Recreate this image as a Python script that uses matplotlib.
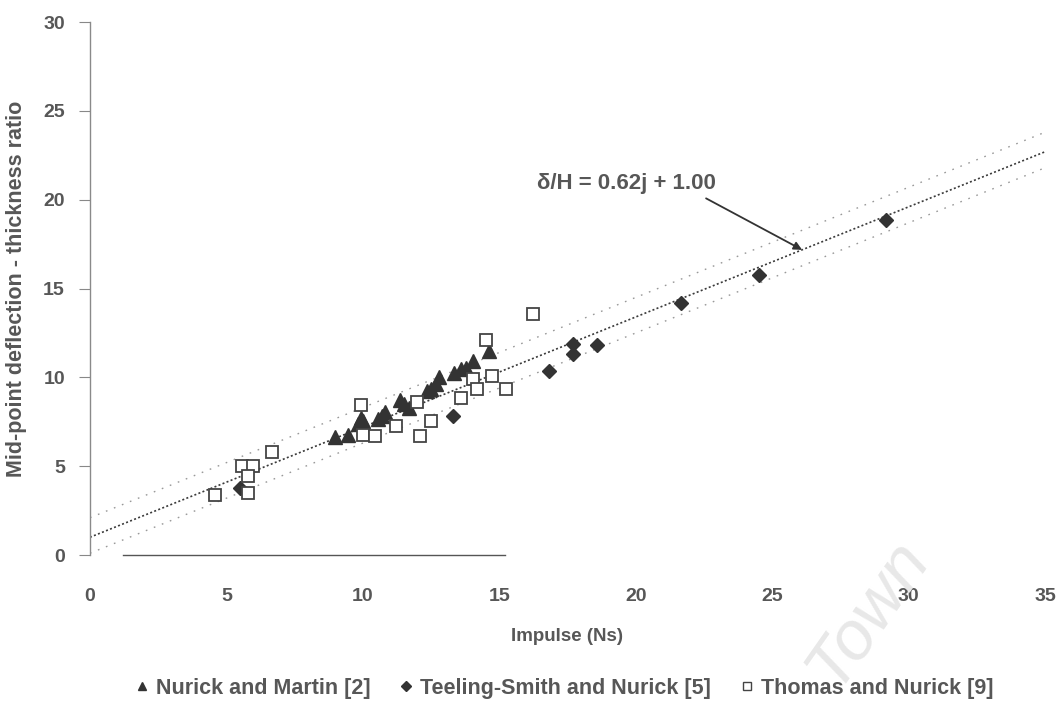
import matplotlib
matplotlib.use("Agg")
import matplotlib.pyplot as plt
from matplotlib.lines import Line2D
import numpy as np

plt.rcParams['font.family'] = ['Liberation Sans', 'DejaVu Sans']

# Nurick and Martin [2]
nm_impulse = [8.97, 9.44, 9.82, 10.02, 9.95, 10.56, 10.70, 10.80, 11.35, 11.50,
              11.70, 12.35, 12.50, 12.68, 12.81, 13.36, 13.60, 13.79, 14.03, 14.61]
nm_ratio = [6.65, 6.74, 7.38, 7.52, 7.70, 7.65, 7.85, 8.05, 8.75, 8.50,
            8.25, 9.25, 9.35, 9.60, 10.00, 10.25, 10.45, 10.55, 10.95, 11.48]

# Teeling-Smith and Nurick [5]
ts_impulse = [5.51, 13.30, 16.82, 17.71, 17.71, 18.57, 21.65, 24.51, 29.19]
ts_ratio = [3.75, 7.83, 10.36, 11.89, 11.33, 11.80, 14.17, 15.79, 18.86]

# Thomas and Nurick [9]
tn_impulse = [4.60, 5.58, 5.98, 5.78, 5.80, 6.68, 9.93, 10.01, 10.44, 11.21,
              11.99, 12.11, 12.50, 13.60, 14.03, 14.19, 14.74, 15.26, 14.52, 16.24]
tn_ratio = [3.37, 5.00, 5.00, 4.44, 3.47, 5.80, 8.43, 6.74, 6.70, 7.25,
            8.61, 6.69, 7.55, 8.86, 9.91, 9.34, 10.06, 9.36, 12.08, 13.58]

# Fitted line  delta/H = 0.62 j + 1.00 with its scatter band
slope = 0.62
intercept = 1.00
band_upper = 1.1
band_lower = -0.9

x_ticks = [0, 5, 10, 15, 20, 25, 30, 35]
y_ticks = [0, 5, 10, 15, 20, 25, 30]

ink = '#333333'
text_col = '#575757'

fig = plt.figure(figsize=(10.58, 7.04), dpi=100)
ax = fig.add_axes([0.085, 0.2116, 0.9027, 0.757])

xs = np.linspace(0, 35, 200)
ax.plot(xs, slope * xs + intercept, color='#3a3a3a', lw=1.2,
        linestyle=(0, (1.2, 1.4)), zorder=2)
ax.plot(xs, slope * xs + intercept + band_upper, color='#999999', lw=1.0,
        linestyle=(0, (1.2, 5)), zorder=2)
ax.plot(xs, slope * xs + intercept + band_lower, color='#999999', lw=1.0,
        linestyle=(0, (1.2, 5)), zorder=2)

ax.plot(nm_impulse, nm_ratio, linestyle='none', marker='^', markersize=10,
        color=ink, markeredgecolor=ink, zorder=3)
ax.plot(ts_impulse, ts_ratio, linestyle='none', marker='D', markersize=7,
        color=ink, markeredgecolor=ink, zorder=3)
ax.plot(tn_impulse, tn_ratio, linestyle='none', marker='s', markersize=9,
        markerfacecolor='white', markeredgecolor='#444444', markeredgewidth=1.3,
        zorder=4)

ax.annotate('δ/H = 0.62j + 1.00', xy=(26.1, slope * 26.1 + intercept),
            xytext=(16.4, 20.9), fontsize=16, fontweight='bold', color=text_col,
            va='center', ha='left',
            arrowprops=dict(arrowstyle='-|>', color='#333333', lw=1.3,
                            mutation_scale=12, shrinkA=2, shrinkB=0,
                            relpos=(0.9, 0.0)))

ax.set_xlim(0, 35)
ax.set_ylim(0, 30)
ax.set_xticks(x_ticks)
ax.set_yticks(y_ticks)
ax.tick_params(axis='both', labelsize=14, labelcolor=text_col, color='#888888',
               length=8, width=0.8, direction='out')
for lab in ax.get_xticklabels() + ax.get_yticklabels():
    lab.set_fontweight('bold')
ax.tick_params(axis='x', pad=24, length=0)
ax.tick_params(axis='y', pad=10)

for side in ('top', 'right'):
    ax.spines[side].set_visible(False)
ax.spines['left'].set_color('#8a8a8a')
ax.spines['left'].set_linewidth(1.0)
ax.spines['bottom'].set_color('#555555')
ax.spines['bottom'].set_linewidth(1.0)
ax.spines['bottom'].set_bounds(1.2, 15.2)

ax.set_xlabel('Impulse (Ns)', fontsize=13.5, fontweight='bold', color=text_col,
              labelpad=16)
ax.set_ylabel('Mid-point deflection - thickness ratio', fontsize=15.5,
              fontweight='bold', color=text_col, labelpad=12)

handles = [
    Line2D([], [], linestyle='none', marker='^', markersize=6, color=ink),
    Line2D([], [], linestyle='none', marker='D', markersize=5, color=ink),
    Line2D([], [], linestyle='none', marker='s', markersize=6,
           markerfacecolor='white', markeredgecolor='#444444'),
]
labels = ['Nurick and Martin [2]', 'Teeling-Smith and Nurick [5]',
          'Thomas and Nurick [9]']
leg = fig.legend(handles, labels, loc='center', bbox_to_anchor=(0.533, 0.022),
                 ncol=3, frameon=False, fontsize=15.5, labelcolor=text_col,
                 handlelength=0.7, handletextpad=0.3, columnspacing=1.3)
for t in leg.get_texts():
    t.set_fontweight('bold')

fig.text(0.82, 0.13, 'Town', fontsize=50, color='#e8e8e8', rotation=55,
         style='italic', ha='center', va='center', zorder=0)

fig.savefig('out.png', dpi=100, facecolor='white')
